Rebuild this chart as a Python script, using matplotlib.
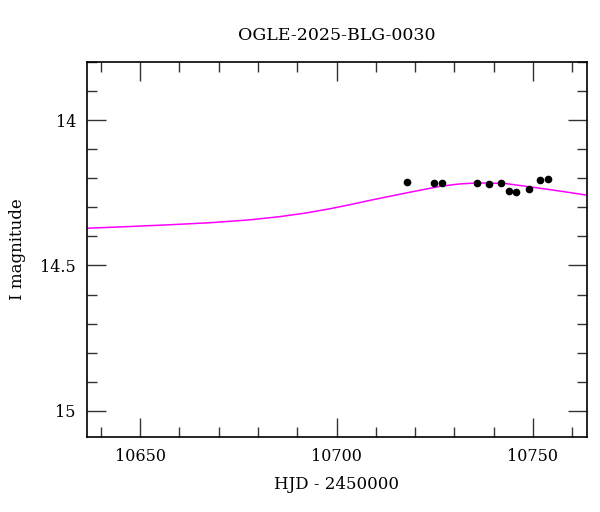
import matplotlib
matplotlib.use("Agg")
import matplotlib.pyplot as plt
from matplotlib.ticker import MultipleLocator

# Observed data (HJD - 2450000, I magnitude)
obs_hjd = [10717.9, 10724.9, 10726.8, 10735.8, 10738.8, 10741.9,
           10743.8, 10745.8, 10748.9, 10751.8, 10753.8]
obs_mag = [14.212, 14.215, 14.216, 14.218, 14.219, 14.217,
           14.243, 14.246, 14.238, 14.207, 14.201]

# Model curve
model_hjd = [10636.5, 10647.5, 10657.6, 10667.8, 10678.0, 10685.6, 10692.0,
             10698.3, 10703.4, 10708.5, 10713.6, 10718.7, 10726.3, 10731.0,
             10735.7, 10742.9, 10750.0, 10757.3, 10763.7]
model_mag = [14.372, 14.366, 14.360, 14.353, 14.343, 14.332, 14.320,
             14.305, 14.291, 14.276, 14.262, 14.248, 14.228, 14.220,
             14.216, 14.218, 14.231, 14.245, 14.258]

title = "OGLE-2025-BLG-0030"
xlabel = "HJD - 2450000"
ylabel = "I magnitude"

plt.rcParams['font.family'] = ['DejaVu Serif']

fig = plt.figure(figsize=(6.0, 5.12), dpi=100)
ax = fig.add_axes([0.145, 0.1465, 0.833, 0.7325])

ax.plot(model_hjd, model_mag, color='#ff00ff', lw=1.1, zorder=2)
ax.plot(obs_hjd, obs_mag, 'o', color='black', ms=4.5, zorder=3)

ax.set_xlim(10636.5, 10763.7)
ax.set_ylim(15.09, 13.80)

ax.xaxis.set_major_locator(MultipleLocator(50))
ax.xaxis.set_minor_locator(MultipleLocator(10))
ax.yaxis.set_major_locator(MultipleLocator(0.5))
ax.yaxis.set_minor_locator(MultipleLocator(0.1))
ax.yaxis.set_major_formatter(plt.FuncFormatter(lambda v, p: f"{v:g}"))

ax.tick_params(which='both', direction='in', top=True, right=True,
               labelsize=11.5, color='#333333')
ax.tick_params(which='major', length=13.5, width=1.0, pad=8)
ax.tick_params(which='minor', length=7, width=1.0)
for s in ax.spines.values():
    s.set_linewidth(1.2)

ax.set_title(title, fontsize=12.5, pad=16)
ax.set_xlabel(xlabel, fontsize=12, labelpad=8)
ax.set_ylabel(ylabel, fontsize=12, labelpad=10)

fig.savefig("out.png", dpi=100)
